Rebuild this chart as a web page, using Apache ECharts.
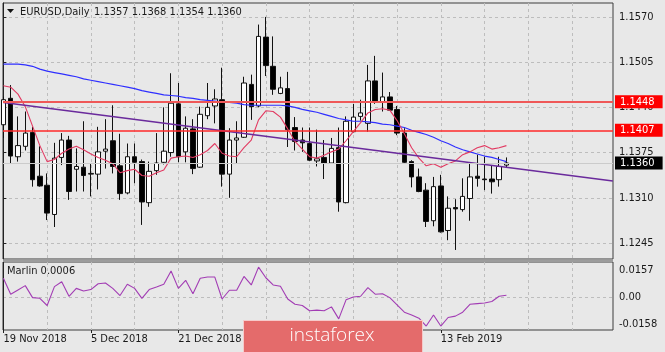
<!DOCTYPE html>
<html>
<head>
<meta charset="utf-8">
<script src="https://cdn.jsdelivr.net/npm/echarts@6/dist/echarts.min.js"></script>
<style>
  html, body { margin: 0; padding: 0; background: #e8e8e8; }
  #chart { width: 665px; height: 352px; }
</style>
</head>
<body>
<div id="chart"></div>
<script>
// daily bars, 19 Nov 2018 .. 26 Feb 2019
const dates = [
  '19 Nov 2018', '20 Nov 2018', '21 Nov 2018', '22 Nov 2018', '23 Nov 2018',
  '26 Nov 2018', '27 Nov 2018', '28 Nov 2018', '29 Nov 2018', '30 Nov 2018',
  '3 Dec 2018', '4 Dec 2018', '5 Dec 2018', '6 Dec 2018', '7 Dec 2018',
  '10 Dec 2018', '11 Dec 2018', '12 Dec 2018', '13 Dec 2018', '14 Dec 2018',
  '17 Dec 2018', '18 Dec 2018', '19 Dec 2018', '20 Dec 2018', '21 Dec 2018',
  '24 Dec 2018', '26 Dec 2018', '27 Dec 2018', '28 Dec 2018', '31 Dec 2018',
  '2 Jan 2019', '3 Jan 2019', '4 Jan 2019', '7 Jan 2019', '8 Jan 2019',
  '9 Jan 2019', '10 Jan 2019', '11 Jan 2019', '14 Jan 2019', '15 Jan 2019',
  '16 Jan 2019', '17 Jan 2019', '18 Jan 2019', '21 Jan 2019', '22 Jan 2019',
  '23 Jan 2019', '24 Jan 2019', '25 Jan 2019', '28 Jan 2019', '29 Jan 2019',
  '30 Jan 2019', '31 Jan 2019', '1 Feb 2019', '4 Feb 2019', '5 Feb 2019',
  '6 Feb 2019', '7 Feb 2019', '8 Feb 2019', '11 Feb 2019', '12 Feb 2019',
  '13 Feb 2019', '14 Feb 2019', '15 Feb 2019', '18 Feb 2019', '19 Feb 2019',
  '20 Feb 2019', '21 Feb 2019', '22 Feb 2019', '25 Feb 2019', '26 Feb 2019'
]

const opens = [
  1.1415, 1.1453, 1.1369, 1.1384, 1.1404, 1.1341, 1.1328, 1.1286, 1.1368, 1.1393,
  1.1351, 1.1354, 1.1344, 1.1344, 1.1377, 1.1392, 1.1356, 1.1317, 1.1369, 1.1362,
  1.1303, 1.1349, 1.1361, 1.1375, 1.1445, 1.1376, 1.1409, 1.1354, 1.1428, 1.1442,
  1.1451, 1.1344, 1.1393, 1.1397, 1.1473, 1.1442, 1.1541, 1.1499, 1.1460, 1.1467,
  1.1411, 1.1393, 1.1388, 1.1363, 1.1368, 1.1360, 1.1382, 1.1303, 1.1405, 1.1427,
  1.1417, 1.1478, 1.1448, 1.1455, 1.1437, 1.1403, 1.1362, 1.1340, 1.1321, 1.1277,
  1.1327, 1.1263, 1.1296, 1.1293, 1.1309, 1.1341, 1.1337, 1.1337, 1.1336, 1.1357
]
const closes = [
  1.1451, 1.1370, 1.1385, 1.1403, 1.1336, 1.1327, 1.1288, 1.1367, 1.1393, 1.1319,
  1.1355, 1.1342, 1.1345, 1.1376, 1.1380, 1.1355, 1.1316, 1.1369, 1.1361, 1.1304,
  1.1348, 1.1360, 1.1377, 1.1446, 1.1369, 1.1410, 1.1352, 1.1430, 1.1440, 1.1452,
  1.1344, 1.1393, 1.1396, 1.1475, 1.1441, 1.1542, 1.1500, 1.1466, 1.1468, 1.1408,
  1.1391, 1.1389, 1.1364, 1.1366, 1.1360, 1.1381, 1.1304, 1.1420, 1.1426, 1.1432,
  1.1478, 1.1447, 1.1455, 1.1436, 1.1403, 1.1361, 1.1340, 1.1319, 1.1276, 1.1326,
  1.1261, 1.1295, 1.1294, 1.1312, 1.1340, 1.1338, 1.1336, 1.1333, 1.1355, 1.1360
]
const lows = [
  1.1396, 1.1360, 1.1362, 1.1378, 1.1326, 1.1326, 1.1278, 1.1268, 1.1357, 1.1307,
  1.1319, 1.1319, 1.1312, 1.1322, 1.1352, 1.1345, 1.1307, 1.1315, 1.1331, 1.1271,
  1.1297, 1.1343, 1.1358, 1.1369, 1.1361, 1.1361, 1.1344, 1.1353, 1.1423, 1.1417,
  1.1326, 1.1310, 1.1360, 1.1396, 1.1422, 1.1440, 1.1485, 1.1458, 1.1459, 1.1383,
  1.1378, 1.1376, 1.1363, 1.1355, 1.1337, 1.1359, 1.1290, 1.1302, 1.1404, 1.1421,
  1.1405, 1.1445, 1.1434, 1.1435, 1.1400, 1.1359, 1.1325, 1.1318, 1.1268, 1.1269,
  1.1260, 1.1249, 1.1235, 1.1290, 1.1277, 1.1326, 1.1321, 1.1316, 1.1326, 1.1354
]
const highs = [
  1.1455, 1.1472, 1.1427, 1.1434, 1.1412, 1.1384, 1.1345, 1.1389, 1.1403, 1.1399,
  1.1381, 1.1420, 1.1360, 1.1412, 1.1423, 1.1443, 1.1402, 1.1388, 1.1388, 1.1365,
  1.1362, 1.1403, 1.1440, 1.1489, 1.1475, 1.1427, 1.1423, 1.1441, 1.1475, 1.1466,
  1.1497, 1.1410, 1.1420, 1.1484, 1.1487, 1.1559, 1.1570, 1.1542, 1.1484, 1.1491,
  1.1426, 1.1411, 1.1411, 1.1408, 1.1393, 1.1396, 1.1411, 1.1427, 1.1445, 1.1451,
  1.1501, 1.1514, 1.1490, 1.1462, 1.1442, 1.1410, 1.1364, 1.1352, 1.1331, 1.1340,
  1.1343, 1.1312, 1.1308, 1.1338, 1.1360, 1.1372, 1.1369, 1.1357, 1.1369, 1.1368
]

// blue (slow) and red (fast) moving averages
const maSlow = [
  1.1502, 1.1502, 1.1502, 1.1501, 1.1499, 1.1495, 1.1492, 1.1490, 1.1488, 1.1486,
  1.1484, 1.1481, 1.1479, 1.1477, 1.1475, 1.1473, 1.1471, 1.1469, 1.1467, 1.1464,
  1.1462, 1.1460, 1.1458, 1.1457, 1.1456, 1.1454, 1.1453, 1.1451, 1.1450, 1.1449,
  1.1448, 1.1447, 1.1446, 1.1444, 1.1443, 1.1443, 1.1443, 1.1443, 1.1443, 1.1442,
  1.1440, 1.1437, 1.1435, 1.1433, 1.1430, 1.1427, 1.1424, 1.1422, 1.1420, 1.1420,
  1.1419, 1.1418, 1.1416, 1.1415, 1.1413, 1.1411, 1.1407, 1.1404, 1.1401, 1.1397,
  1.1392, 1.1388, 1.1383, 1.1379, 1.1376, 1.1373, 1.1370, 1.1368, 1.1365, 1.1362
]
const maFast = [
  1.1471, 1.1469, 1.1459, 1.1441, 1.1413, 1.1385, 1.1362, 1.1365, 1.1374, 1.1380,
  1.1384, 1.1379, 1.1373, 1.1368, 1.1364, 1.1359, 1.1346, 1.1349, 1.1351, 1.1342,
  1.1341, 1.1346, 1.1350, 1.1367, 1.1369, 1.1370, 1.1368, 1.1372, 1.1378, 1.1388,
  1.1374, 1.1370, 1.1369, 1.1382, 1.1393, 1.1422, 1.1435, 1.1434, 1.1426, 1.1409,
  1.1391, 1.1380, 1.1369, 1.1367, 1.1371, 1.1376, 1.1380, 1.1392, 1.1405, 1.1418,
  1.1432, 1.1437, 1.1438, 1.1436, 1.1421, 1.1402, 1.1382, 1.1367, 1.1356, 1.1359,
  1.1354, 1.1359, 1.1363, 1.1372, 1.1376, 1.1382, 1.1385, 1.1380, 1.1382, 1.1385
]

// purple trend line: [bar, price] at its two ends (right end on the chart edge)
const trendLine = [[0, 1.1447], [83.6, 1.1334]]
const levels = [1.1448, 1.1407]
const lastPrice = 1.1360

const marlin = [
  0.0109, 0.0016, 0.0041, 0.0066, -0.0004, -0.0008, -0.0050, 0.0060, 0.0089, 0.0004,
  0.0050, 0.0035, 0.0043, 0.0077, 0.0081, 0.0050, 0.0008, 0.0074, 0.0050, -0.0008,
  0.0043, 0.0058, 0.0074, 0.0151, 0.0050, 0.0097, 0.0019, 0.0109, 0.0116, 0.0116,
  -0.0012, 0.0039, 0.0039, 0.0120, 0.0070, 0.0174, 0.0112, 0.0070, 0.0062, -0.0012,
  -0.0043, -0.0050, -0.0081, -0.0077, -0.0081, -0.0058, -0.0128, -0.0017, 0.0000, 0.0004,
  0.0054, 0.0016, 0.0019, -0.0004, -0.0046, -0.0089, -0.0105, -0.0124, -0.0170, -0.0105,
  -0.0170, -0.0120, -0.0112, -0.0089, -0.0043, -0.0039, -0.0035, -0.0027, 0.0004, 0.0010
]

const priceTicks = [1.1245, 1.1310, 1.1375, 1.1440, 1.1505, 1.1570]
const marlinTicks = [-0.0158, 0, 0.0157]
const gridCols = [6, 12, 18, 24, 30, 36, 42, 48, 54, 60, 66, 72, 78]
const dateTicks = [0, 12, 24, 36, 48, 60]

const FONT = "'DejaVu Sans Condensed', 'Liberation Sans', sans-serif"
const TXT = '#1a1a1a'
const GRIDLINE = { show: true, lineStyle: { color: '#bdbdbd', type: [3, 3], width: 1 } }
const X_MIN = -0.055
const X_MAX = 83.62

const chart = echarts.init(document.getElementById('chart'))

const tag = (bg) => ({
  show: true,
  position: 'end',
  distance: 2,
  formatter: (p) => Number(p.value).toFixed(4),
  color: '#ffffff',
  backgroundColor: bg,
  fontFamily: FONT,
  fontSize: 11,
  lineHeight: 11,
  padding: [1, 8, 1, 5]
})

const option = {
  animation: false,
  backgroundColor: '#e8e8e8',
  textStyle: { fontFamily: FONT },
  grid: [
    { left: 3, top: 3, width: 610, height: 256, show: true, borderColor: '#3c3c3c', borderWidth: 1 },
    { left: 3, top: 262, width: 610, height: 68, show: true, borderColor: '#3c3c3c', borderWidth: 1 }
  ],
  xAxis: [
    {
      type: 'value', gridIndex: 0, min: X_MIN, max: X_MAX,
      axisLine: { show: false }, axisLabel: { show: false },
      axisTick: { show: false, customValues: gridCols },
      splitLine: GRIDLINE
    },
    {
      type: 'value', gridIndex: 1, min: X_MIN, max: X_MAX,
      axisLine: { show: false }, axisLabel: { show: false },
      axisTick: { show: false, customValues: gridCols },
      splitLine: GRIDLINE
    },
    {
      type: 'value', gridIndex: 1, min: X_MIN, max: X_MAX, position: 'bottom',
      axisLine: { show: false },
      axisTick: { show: true, length: 3, customValues: dateTicks, lineStyle: { color: '#222' } },
      axisLabel: {
        customValues: dateTicks,
        align: 'left',
        margin: 4,
        color: TXT,
        fontSize: 11,
        fontFamily: FONT,
        formatter: (v) => dates[Math.round(v)] || ''
      },
      splitLine: { show: false }
    }
  ],
  yAxis: [
    {
      type: 'value', gridIndex: 0, position: 'right', min: 1.1222, max: 1.1590,
      axisLine: { show: true, lineStyle: { color: '#222' } },
      axisTick: { show: true, length: 3, customValues: priceTicks, lineStyle: { color: '#222' } },
      axisLabel: {
        customValues: priceTicks, margin: 6, color: TXT, fontSize: 11, fontFamily: FONT,
        formatter: (v) => v.toFixed(4)
      },
      splitLine: GRIDLINE
    },
    {
      type: 'value', gridIndex: 1, position: 'right', min: -0.0193, max: 0.0204,
      axisLine: { show: true, lineStyle: { color: '#222' } },
      axisTick: { show: false, customValues: [0] },
      axisLabel: {
        customValues: marlinTicks, margin: 6, color: TXT, fontSize: 11, fontFamily: FONT,
        formatter: (v) => (v === 0 ? '0.00' : v.toFixed(4))
      },
      splitLine: GRIDLINE
    }
  ],
  series: [
    {
      name: 'EURUSD',
      type: 'candlestick',
      xAxisIndex: 0,
      yAxisIndex: 0,
      barWidth: 5,
      data: opens.map((o, i) => [i, o, closes[i], lows[i], highs[i]]),
      itemStyle: {
        color: '#ffffff',
        color0: '#000000',
        borderColor: '#111111',
        borderColor0: '#111111',
        borderWidth: 1
      }
    },
    {
      name: 'MA slow',
      type: 'line',
      xAxisIndex: 0,
      yAxisIndex: 0,
      showSymbol: false,
      data: maSlow.map((v, i) => [i, v]),
      lineStyle: { color: '#2f2fff', width: 1.2 }
    },
    {
      name: 'MA fast',
      type: 'line',
      xAxisIndex: 0,
      yAxisIndex: 0,
      showSymbol: false,
      data: maFast.map((v, i) => [i, v]),
      lineStyle: { color: '#e23a62', width: 1.1 }
    },
    {
      name: 'Trend',
      type: 'line',
      xAxisIndex: 0,
      yAxisIndex: 0,
      showSymbol: false,
      data: trendLine,
      lineStyle: { color: '#6a2a9c', width: 1.5 },
      markLine: {
        silent: true,
        symbol: 'none',
        precision: 4,
        data: [
          {
            yAxis: lastPrice,
            lineStyle: { color: '#cbcbcb', type: 'solid', width: 1 },
            label: tag('#000000')
          },
          ...levels.map((v, i) => ({
            yAxis: v,
            lineStyle: { color: i === 0 ? '#ef5858' : '#ff2a2a', type: 'solid', width: i === 0 ? 2 : 1.5 },
            label: tag('#ff0000')
          }))
        ]
      }
    },
    {
      name: 'Marlin',
      type: 'line',
      xAxisIndex: 1,
      yAxisIndex: 1,
      showSymbol: false,
      data: marlin.map((v, i) => [i, v]),
      lineStyle: { color: '#a23cb4', width: 1.1 }
    }
  ],
  graphic: [
    { type: 'rect', z: 50, shape: { x: 3, y: 259.5, width: 610, height: 2.5 }, style: { fill: '#9c9c9c' } },
    { type: 'polygon', z: 50, shape: { points: [[7, 9], [14, 9], [10.5, 13]] }, style: { fill: '#111' } },
    {
      type: 'text', z: 50, x: 20, y: 12,
      style: { text: 'EURUSD,Daily', fill: TXT, font: '11px ' + FONT, verticalAlign: 'middle' }
    },
    {
      type: 'text', z: 50, x: 94, y: 12,
      style: { text: '1.1357 1.1368 1.1354 1.1360', fill: TXT, font: '11px ' + FONT, verticalAlign: 'middle' }
    },
    {
      type: 'text', z: 50, x: 7, y: 271,
      style: { text: 'Marlin 0.0006', fill: TXT, font: '11px ' + FONT, verticalAlign: 'middle' }
    },
    {
      type: 'rect', z: 100,
      shape: { x: 243.5, y: 320.5, width: 179, height: 34 },
      style: { fill: '#e46b6b', stroke: '#f6caca', lineWidth: 1 }
    },
    {
      type: 'text', z: 101, x: 332, y: 336,
      style: {
        text: 'instaforex', fill: '#ffffff',
        font: '300 19px "Open Sans", "Liberation Sans", sans-serif',
        align: 'center', verticalAlign: 'middle'
      }
    }
  ]
}

chart.setOption(option)
</script>
</body>
</html>
